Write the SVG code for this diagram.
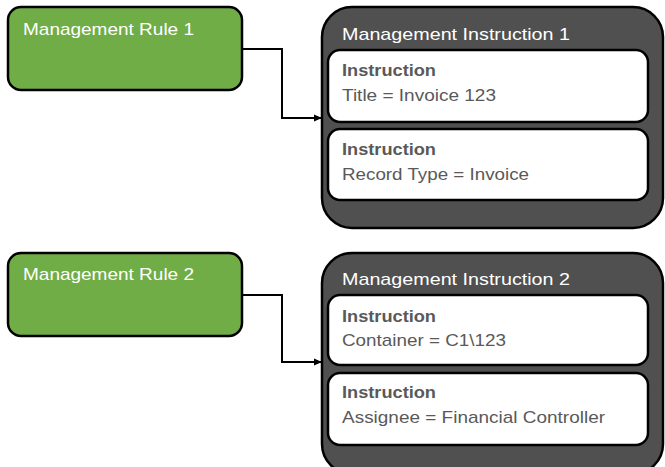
<svg xmlns="http://www.w3.org/2000/svg" width="665" height="467" viewBox="0 0 665 467">
  <defs>
    <marker id="arrow" markerWidth="8" markerHeight="8" refX="7" refY="4" orient="auto" markerUnits="userSpaceOnUse">
      <path d="M0,0.5 L8,4 L0,7.5 Z" fill="#000"/>
    </marker>
    <style>
      .rule { fill: #70AD47; stroke: #000; stroke-width: 2.5; }
      .outer { fill: #505050; stroke: #000; stroke-width: 2.5; }
      .inner { fill: #FFFFFF; stroke: #000; stroke-width: 2.5; }
      .wt { fill: #FFFFFF; font-family: "Liberation Sans", Arial, sans-serif; font-size: 17px; }
      .hd { fill: #595959; font-family: "Liberation Sans", Arial, sans-serif; font-size: 17px; font-weight: bold; }
      .tx { fill: #595959; font-family: "Liberation Sans", Arial, sans-serif; font-size: 17px; }
      .conn { fill: none; stroke: #000; stroke-width: 2; }
    </style>
  </defs>
  <rect width="665" height="467" fill="#FFFFFF"/>

  <g id="connectors">
    <path class="conn" d="M242,49 H282 V118 H321" marker-end="url(#arrow)"/>
    <path class="conn" d="M242,295 H282 V362 H321" marker-end="url(#arrow)"/>
  </g>

  <g id="rule1">
    <rect class="rule" x="8" y="7" width="234" height="83" rx="13"/>
    <text class="wt" x="23" y="35" textLength="171" lengthAdjust="spacingAndGlyphs">Management Rule 1</text>
  </g>

  <g id="rule2">
    <rect class="rule" x="8" y="253" width="234" height="83" rx="13"/>
    <text class="wt" x="23" y="280" textLength="171" lengthAdjust="spacingAndGlyphs">Management Rule 2</text>
  </g>

  <g id="instruction1">
    <rect class="outer" x="322" y="7" width="341" height="221" rx="30"/>
    <text class="wt" x="342" y="40" textLength="228" lengthAdjust="spacingAndGlyphs">Management Instruction 1</text>
    <g id="instruction1a">
      <rect class="inner" x="328" y="50" width="320" height="72" rx="12"/>
      <text class="hd" x="342" y="76" textLength="94" lengthAdjust="spacingAndGlyphs">Instruction</text>
      <text class="tx" x="342" y="101" textLength="154" lengthAdjust="spacingAndGlyphs">Title = Invoice 123</text>
    </g>
    <g id="instruction1b">
      <rect class="inner" x="328" y="129" width="320" height="71" rx="12"/>
      <text class="hd" x="342" y="155" textLength="94" lengthAdjust="spacingAndGlyphs">Instruction</text>
      <text class="tx" x="342" y="180" textLength="187" lengthAdjust="spacingAndGlyphs">Record Type = Invoice</text>
    </g>
  </g>

  <g id="instruction2">
    <rect class="outer" x="322" y="253" width="341" height="221" rx="30"/>
    <text class="wt" x="342" y="285" textLength="228" lengthAdjust="spacingAndGlyphs">Management Instruction 2</text>
    <g id="instruction2a">
      <rect class="inner" x="328" y="295" width="320" height="70" rx="12"/>
      <text class="hd" x="342" y="322" textLength="94" lengthAdjust="spacingAndGlyphs">Instruction</text>
      <text class="tx" x="342" y="346" textLength="164" lengthAdjust="spacingAndGlyphs">Container = C1\123</text>
    </g>
    <g id="instruction2b">
      <rect class="inner" x="328" y="373" width="320" height="72" rx="12"/>
      <text class="hd" x="342" y="398" textLength="94" lengthAdjust="spacingAndGlyphs">Instruction</text>
      <text class="tx" x="342" y="423" textLength="263" lengthAdjust="spacingAndGlyphs">Assignee = Financial Controller</text>
    </g>
  </g>
</svg>
